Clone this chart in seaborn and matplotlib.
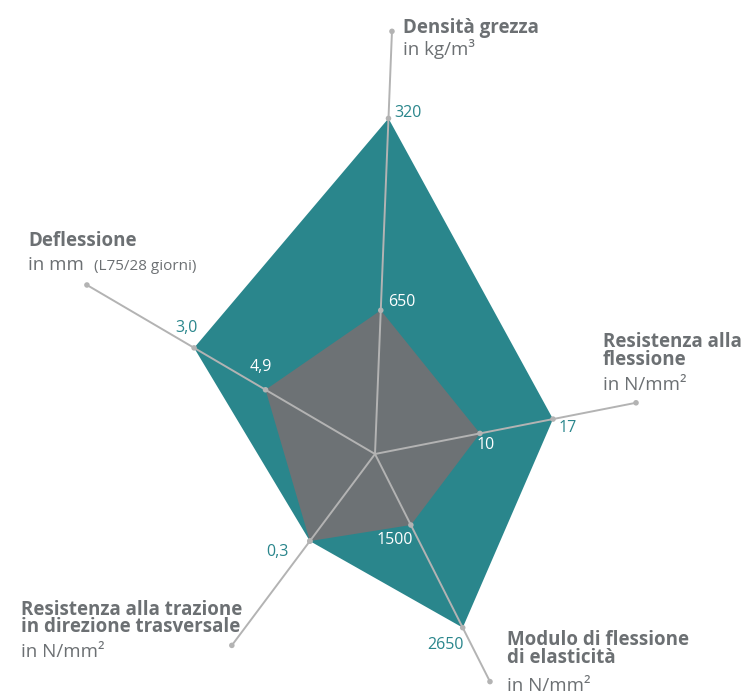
import matplotlib
matplotlib.use('Agg')

import numpy as np
import matplotlib.pyplot as plt
import seaborn as sns

# data
categories = ['Densità grezza', 'Resistenza alla flessione', 'Modulo di flessione di elasticità',
              'Resistenza alla trazione in direzione trasversale', 'Deflessione']
teal_labels = ['320', '17', '2650', '0,3', '3,0']
gray_labels = ['650', '10', '1500', '', '4,9']
# plotted level of each series along its spoke (0 = centre, 1 = spoke end)
teal_level = [0.794, 0.682, 0.763, 0.455, 0.628]
gray_level = [0.340, 0.402, 0.312, 0.455, 0.380]

# layout of the spokes (degrees, pixels)
spoke_angle = [87.7, 11.1, 296.8, 233.2, 149.6]
spoke_len = [423, 266, 255, 239, 334]

TEAL = '#2a868c'
GRAY = '#6d7275'
LINE = '#b3b3b3'
TEXT = '#6c7073'

sns.set_style('white')
plt.rcParams['font.family'] = ['Open Sans', 'DejaVu Sans']

W, H = 744, 695
fig = plt.figure(figsize=(W / 100, H / 100), dpi=100)
CX, CY, R = 375, H - 454, 450
ax = fig.add_axes([(CX - R) / W, (CY - R) / H, 2 * R / W, 2 * R / H], projection='polar')

theta = np.deg2rad(spoke_angle)
r_end = np.array(spoke_len, dtype=float)
r_teal = np.array(teal_level) * r_end
r_gray = np.array(gray_level) * r_end

ax.fill(theta, r_teal, color=TEAL, lw=0, zorder=1)
ax.fill(theta, r_gray, color=GRAY, lw=0, zorder=2)
for t, L in zip(theta, r_end):
    ax.plot([t, t], [0, L], color=LINE, lw=1.4, zorder=3, solid_capstyle='butt')

sns.scatterplot(x=np.r_[theta, theta, theta], y=np.r_[r_end, r_teal, r_gray],
                ax=ax, s=16, color=LINE, edgecolor='none', zorder=4)

ax.set_ylim(0, R)
ax.set_axis_off()

# value labels: offsets in pixels from the vertex
teal_off = [(20, 5), (15, -9), (-17, -17), (-32, -11), (-8, 20)]
gray_off = [(21, 8), (6, -12), (-16, -15), (0, 0), (-5, 23)]
for t, r, s, o in zip(theta, r_teal, teal_labels, teal_off):
    ax.annotate(s, (t, r), xytext=o, textcoords='offset pixels', ha='center', va='center',
                color=TEAL, fontsize=11.5, zorder=5)
for t, r, s, o in zip(theta, r_gray, gray_labels, gray_off):
    if s:
        ax.annotate(s, (t, r), xytext=o, textcoords='offset pixels', ha='center', va='center',
                    color='white', fontsize=11.5, zorder=5)

# category titles: bold block, unit line, offsets (dx, dy of last bold baseline, dy of unit) from the spoke end
title_bold = ['Densità grezza', 'Resistenza alla\nflessione', 'Modulo di flessione\ndi elasticità',
              'Resistenza alla trazione\nin direzione trasversale', 'Deflessione']
title_unit = ['in kg/m³', 'in N/mm²', 'in N/mm²', 'in N/mm²', 'in mm']
title_off = [(11, -2, -24), (-33, 38, 13), (17, 19, -9), (-211, 13, -12), (-59, 39, 15)]
for t, L, b, u, (dx, dy1, dy2) in zip(theta, r_end, title_bold, title_unit, title_off):
    ax.annotate(b, (t, L), xytext=(dx, dy1), textcoords='offset pixels', ha='left', va='baseline',
                color=TEXT, fontsize=13.5, fontweight='bold', linespacing=0.85)
    ax.annotate(u, (t, L), xytext=(dx, dy2), textcoords='offset pixels', ha='left', va='baseline',
                color=TEXT, fontsize=13.5)
ax.annotate('(L75/28 giorni)', (theta[4], r_end[4]), xytext=(7, 15), textcoords='offset pixels',
            ha='left', va='baseline', color=TEXT, fontsize=11)

plt.savefig('out.png', dpi=100)
plt.close()
